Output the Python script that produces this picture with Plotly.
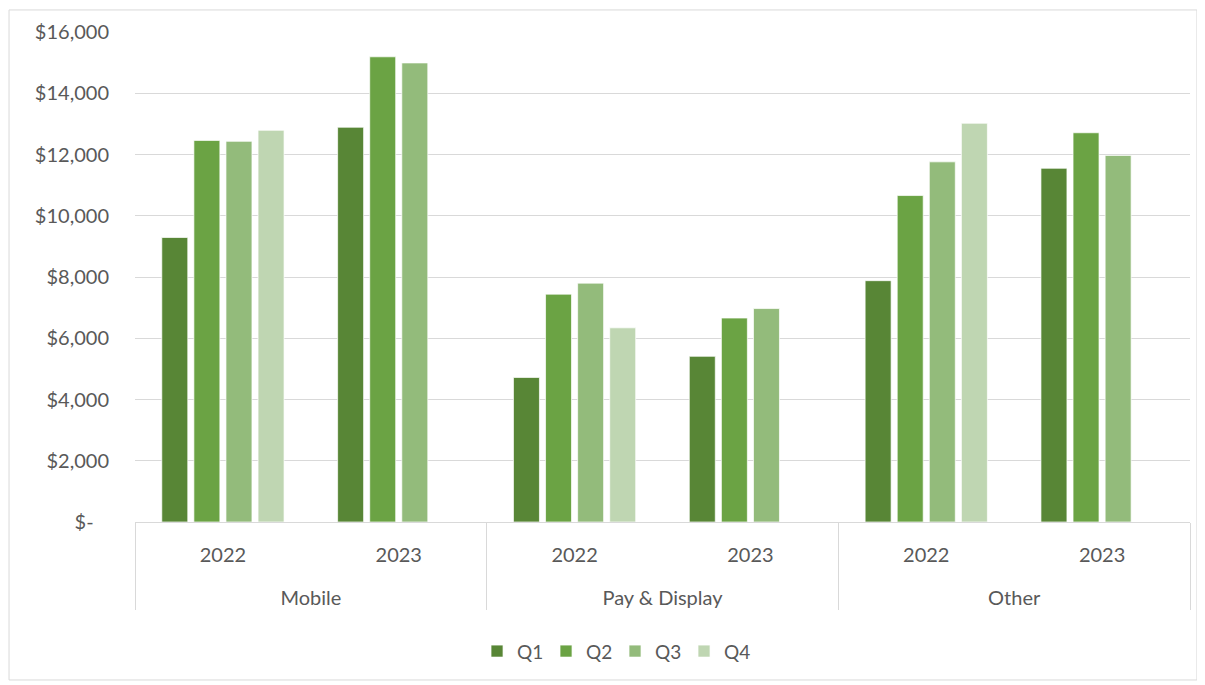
import plotly.graph_objects as go

# data
categories = ["Mobile", "Pay & Display", "Other"]
years = ["2022", "2023"]
quarters = ["Q1", "Q2", "Q3", "Q4"]

q1 = [9290, 12890, 4720, 5410, 7880, 11550]
q2 = [12460, 15190, 7440, 6660, 10660, 12710]
q3 = [12430, 14990, 7800, 6970, 11760, 11970]
q4 = [12790, None, 6340, None, 13020, None]

y_ticks = [0, 2000, 4000, 6000, 8000, 10000, 12000, 14000, 16000]
y_labels = ["$-\u00a0\u00a0\u00a0"] + [f"${v:,}" for v in y_ticks[1:]]

colors = ["#588636", "#6BA344", "#93BB7B", "#BFD6B2"]
text_color = "#595959"
grid_color = "#D9D9D9"
font_family = "Lato, 'Open Sans', sans-serif"

outer = [c for c in categories for _ in years]
# extra blank line pushes the outer level further down, like Excel
inner = [y + "<br><span style='font-size:45px'>\u00a0</span>" for _ in categories for y in years]

fig = go.Figure()
for name, vals, col in zip(quarters, [q1, q2, q3, q4], colors):
    fig.add_trace(go.Bar(
        x=[outer, inner],
        y=vals,
        name=name,
        marker_color=col,
        marker_line=dict(color="rgba(255,255,255,0.7)", width=1),
    ))

# page body has an 8px margin, so the figure is a bit smaller than the window
fig.update_layout(
    barmode="group",
    bargap=0.27,
    bargroupgap=0.19,
    width=1197,
    height=677,
    margin=dict(l=127, r=15, t=24, b=163),
    plot_bgcolor="white",
    paper_bgcolor="white",
    font=dict(family=font_family, size=20, color=text_color),
    legend=dict(
        orientation="h",
        x=0.455,
        xanchor="center",
        y=-0.225,
        yanchor="top",
        font=dict(size=19, color=text_color),
        traceorder="normal",
        entrywidth=24,
        entrywidthmode="pixels",
    ),
    shapes=[dict(
        type="rect", xref="paper", yref="paper",
        x0=-0.1194, x1=1.0066, y0=-0.3224, y1=1.045,
        line=dict(color=grid_color, width=1),
        layer="below",
    )],
)

fig.update_yaxes(
    range=[0, 16000],
    tickvals=y_ticks,
    ticktext=y_labels,
    showgrid=True,
    gridcolor=grid_color,
    gridwidth=1,
    zeroline=False,
    showline=False,
    ticks="",
    ticklabelstandoff=25,
    tickfont=dict(size=20, color=text_color),
)

fig.update_xaxes(
    type="multicategory",
    showline=True,
    linecolor=grid_color,
    linewidth=1,
    showdividers=True,
    dividercolor=grid_color,
    dividerwidth=1,
    ticks="",
    ticklabelstandoff=15,
    tickfont=dict(size=20, color=text_color),
)

fig.write_html("out.html")
